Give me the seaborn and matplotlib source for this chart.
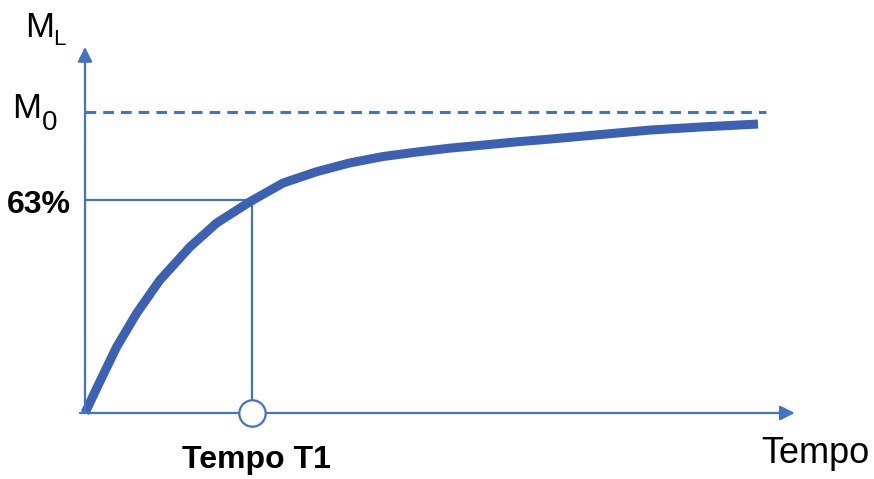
import numpy as np
import pandas as pd
import matplotlib
matplotlib.use("Agg")
import matplotlib.pyplot as plt
import seaborn as sns

# curve (time in units of T1, M_L in % of M0)
tempo = [0.0, 0.046, 0.094, 0.190, 0.310, 0.449, 0.629, 0.788, 0.988,
         1.186, 1.389, 1.587, 1.784, 1.988, 2.186, 2.383, 2.587, 2.784,
         3.084, 3.383, 3.683, 4.03]
ml = [0.0, 5.4, 11.0, 22.0, 33.2, 44.2, 55.2, 63.1, 70.2,
      76.4, 80.2, 83.1, 85.2, 86.7, 88.0, 89.0, 90.1, 91.0,
      92.5, 94.0, 95.0, 96.0]
m0 = 100.0
t1 = 1.0
livello_63 = 70.8     # where the 63% guide is drawn
t_max_axis = 4.25
t_max_m0 = 4.08
ml_max_axis = 121.6

df = pd.DataFrame({"Tempo": tempo, "ML": ml})

sns.set_style("white")
plt.rcParams['font.family'] = ['Liberation Sans', 'DejaVu Sans']

W, H = 874, 479
fig = plt.figure(figsize=(W / 100, H / 100), dpi=100)
ax = fig.add_axes([0, 0, 1, 1])
ax.set_xlim(-85 / 167, (W - 85) / 167)
ax.set_ylim(-(H - 413) / 3.01, 413 / 3.01)
ax.axis("off")

blu = "#4472C4"
blu_scuro = "#3C61B2"

# axes with arrows
ax.annotate("", xy=(t_max_axis, 0), xytext=(-0.03, 0),
            arrowprops=dict(arrowstyle="-|>", color=blu, lw=1.6,
                            mutation_scale=22, shrinkA=0, shrinkB=0))
ax.annotate("", xy=(0, ml_max_axis), xytext=(0, 0),
            arrowprops=dict(arrowstyle="-|>", color=blu, lw=1.6,
                            mutation_scale=22, shrinkA=0, shrinkB=0))

# guides
ax.plot([0, t_max_m0], [m0, m0], color=blu, lw=2.2, ls=(0, (3.5, 2.3)))
ax.plot([0, t1], [livello_63, livello_63], color=blu, lw=1.6)
ax.plot([t1, t1], [0, livello_63], color=blu, lw=1.6)

# curve
sns.lineplot(data=df, x="Tempo", y="ML", ax=ax, color=blu_scuro, lw=6.5,
             solid_capstyle="butt", solid_joinstyle="round")

ax.plot([t1], [0], marker="o", ms=19, mfc="white", mec=blu, mew=1.6,
        zorder=5)

# labels (pixel positions)
def ft(x, y, s, **kw):
    fig.text(x / W, 1 - y / H, s, va="baseline", ha="left", color="black", **kw)

ft(25, 37, "M", fontsize=25)
ft(53, 45, "L", fontsize=16)
ft(12, 118, "M", fontsize=25)
ft(42, 130, "0", fontsize=20)
ft(7, 213, "63%", fontsize=23, fontweight="bold")
ft(182, 468, "Tempo T1", fontsize=23, fontweight="bold")
ft(761, 463, "Tempo", fontsize=26)

fig.savefig("out.png", dpi=100)
